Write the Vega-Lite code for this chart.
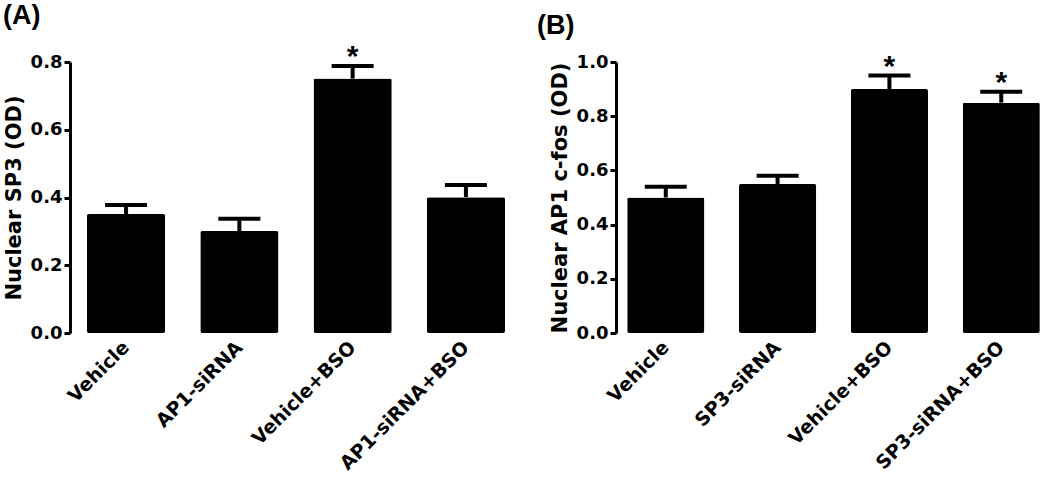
{
  "$schema": "https://vega.github.io/schema/vega-lite/v6.json",
  "padding": {"left": 3, "top": 2, "right": 0, "bottom": 0},
  "background": "white",
  "config": {
    "font": "DejaVu Sans",
    "view": {"stroke": null},
    "title": {"font": "Liberation Sans", "fontSize": 27, "fontWeight": "bold", "color": "black", "anchor": "start", "frame": "bounds", "offset": 12},
    "axis": {"labelFont": "DejaVu Sans", "labelFontWeight": "bold", "labelFontSize": 18, "labelColor": "black", "titleFont": "DejaVu Sans", "titleFontWeight": "bold", "titleFontSize": 21, "titleColor": "black", "grid": false, "domainColor": "black", "tickColor": "black"},
    "concat": {"spacing": 15}
  },
  "hconcat": [
    {
      "title": {"text": "(A)", "dx": 0},
      "width": 452,
      "height": 271,
      "data": {"values": [
        {"group": "Vehicle", "value": 0.351, "err": 0.378, "sig": ""},
        {"group": "AP1-siRNA", "value": 0.301, "err": 0.337, "sig": ""},
        {"group": "Vehicle+BSO", "value": 0.751, "err": 0.788, "sig": "*"},
        {"group": "AP1-siRNA+BSO", "value": 0.401, "err": 0.437, "sig": ""}
      ]},
      "encoding": {
        "x": {"field": "group", "type": "nominal", "sort": null,
          "scale": {"paddingInner": 0.31, "paddingOuter": 0.15},
          "axis": {"title": null, "domain": false, "ticks": false, "labelAngle": -45, "labelAlign": "right", "labelBaseline": "middle", "labelPadding": 11, "labelFontSize": 19, "labelLimit": 400}}
      },
      "layer": [
        {"mark": {"type": "rule", "color": "black", "strokeWidth": 4},
         "encoding": {"y": {"field": "value", "type": "quantitative"}, "y2": {"field": "err"}}},
        {"mark": {"type": "tick", "color": "black", "size": 42, "thickness": 4, "opacity": 1},
         "encoding": {"y": {"field": "err", "type": "quantitative"}}},
        {"mark": {"type": "bar", "color": "black", "cornerRadius": 2},
         "encoding": {"y": {"field": "value", "type": "quantitative",
           "scale": {"domain": [0, 0.8], "nice": false},
           "axis": {"title": "Nuclear SP3 (OD)", "values": [0, 0.2, 0.4, 0.6, 0.8], "format": ".1f", "domainWidth": 3, "tickWidth": 3, "tickSize": 6, "labelPadding": 2, "titlePadding": 6}}}},
        {"mark": {"type": "text", "color": "black", "font": "Liberation Sans", "fontSize": 30, "fontWeight": "bold", "baseline": "alphabetic", "dy": 0},
         "encoding": {"y": {"field": "err", "type": "quantitative"}, "text": {"field": "sig"}}}
      ],
      "resolve": {"scale": {"y": "shared"}}
    },
    {
      "title": {"text": "(B)", "dx": -12},
      "width": 435,
      "height": 271,
      "data": {"values": [
        {"group": "Vehicle", "value": 0.50, "err": 0.54, "sig": ""},
        {"group": "SP3-siRNA", "value": 0.55, "err": 0.58, "sig": ""},
        {"group": "Vehicle+BSO", "value": 0.90, "err": 0.95, "sig": "*"},
        {"group": "SP3-siRNA+BSO", "value": 0.85, "err": 0.89, "sig": "*"}
      ]},
      "encoding": {
        "x": {"field": "group", "type": "nominal", "sort": null,
          "scale": {"paddingInner": 0.31, "paddingOuter": 0.1},
          "axis": {"title": null, "domain": false, "ticks": false, "labelAngle": -45, "labelAlign": "right", "labelBaseline": "middle", "labelPadding": 11, "labelFontSize": 19, "labelLimit": 400}}
      },
      "layer": [
        {"mark": {"type": "rule", "color": "black", "strokeWidth": 4},
         "encoding": {"y": {"field": "value", "type": "quantitative"}, "y2": {"field": "err"}}},
        {"mark": {"type": "tick", "color": "black", "size": 42, "thickness": 4, "opacity": 1},
         "encoding": {"y": {"field": "err", "type": "quantitative"}}},
        {"mark": {"type": "bar", "color": "black", "cornerRadius": 2},
         "encoding": {"y": {"field": "value", "type": "quantitative",
           "scale": {"domain": [0, 1.0], "nice": false},
           "axis": {"title": "Nuclear AP1 c-fos (OD)", "values": [0, 0.2, 0.4, 0.6, 0.8, 1.0], "format": ".1f", "domainWidth": 3, "tickWidth": 3, "tickSize": 6, "labelPadding": 2, "titlePadding": 6}}}},
        {"mark": {"type": "text", "color": "black", "font": "Liberation Sans", "fontSize": 30, "fontWeight": "bold", "baseline": "alphabetic", "dy": 0},
         "encoding": {"y": {"field": "err", "type": "quantitative"}, "text": {"field": "sig"}}}
      ],
      "resolve": {"scale": {"y": "shared"}}
    }
  ]
}
